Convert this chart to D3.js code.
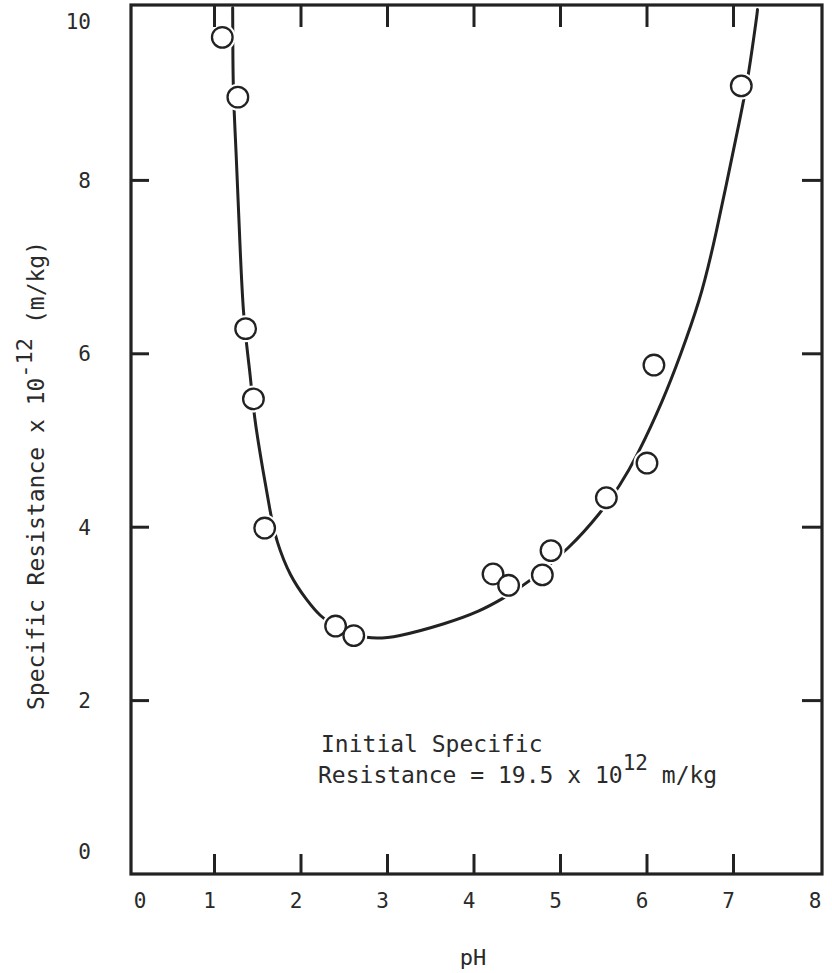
<!DOCTYPE html>
<html>
<head>
<meta charset="utf-8">
<script src="https://cdn.jsdelivr.net/npm/d3@7/dist/d3.min.js"></script>
<style>
  html, body { margin: 0; padding: 0; background: #fff; }
  svg { display: block; }
  text { font-family: "DejaVu Sans Mono", monospace; fill: #2a2a2a; }
</style>
</head>
<body>
<svg id="chart" width="832" height="973"></svg>
<script>
// ---- data ----
const xTicks = [0, 1, 2, 3, 4, 5, 6, 7, 8];
const yTicks = [0, 2, 4, 6, 8, 10];
const pointPH = [1.09, 1.27, 1.36, 1.45, 1.58, 2.40, 2.61, 4.22, 4.40, 4.79, 4.89, 5.53, 6.00, 6.08, 7.09];
const pointSR = [9.65, 8.96, 6.29, 5.48, 3.99, 2.86, 2.75, 3.46, 3.33, 3.45, 3.73, 4.34, 4.74, 5.87, 9.09];
const curvePH = [1.210, 1.212, 1.214, 1.249, 1.283, 1.329, 1.410, 1.457, 1.549, 1.650, 1.711, 1.873, 2.066, 2.220, 2.405, 2.760, 3.106, 3.684, 4.069, 4.339, 4.601, 5.110, 5.476, 5.680, 5.881, 6.189, 6.382, 6.613, 6.766, 7.113, 7.171, 7.275, 7.277];
const curveSR = [9.99, 9.60, 9.04, 8.35, 7.54, 6.41, 5.81, 5.27, 4.72, 4.14, 3.85, 3.43, 3.16, 2.97, 2.85, 2.70, 2.73, 2.89, 3.03, 3.18, 3.34, 3.76, 4.18, 4.47, 4.81, 5.47, 5.97, 6.62, 7.22, 8.89, 9.20, 9.93, 9.97];
const xTitle = "pH";
const yTitleMain = "Specific Resistance x 10";
const yTitleSup = "-12";
const yTitleTail = " (m/kg)";
const noteLine1 = "Initial Specific";
const noteLine2 = "Resistance = 19.5 x 10";
const noteSup = "12";
const noteTail = " m/kg";

// ---- layout ----
const W = 832, H = 973;
const frame = { left: 131, right: 822, top: 5, bottom: 874 };
const ink = "#222";

const svg = d3.select("#chart");
const x = d3.scaleLinear().domain([0, 8]).range([128, 820]);
const y = d3.scaleLinear().domain([0, 10]).range([874, 7]);

// curve
const curveData = curvePH.map((p, i) => [p, curveSR[i]]);
const line = d3.line()
  .x(d => x(d[0])).y(d => y(d[1]))
  .curve(d3.curveBasis);
svg.append("path")
  .datum(curveData)
  .attr("d", line)
  .attr("fill", "none")
  .attr("stroke", ink)
  .attr("stroke-width", 3)
  .attr("stroke-linecap", "round");

// points: white halo then open circle
const pts = pointPH.map((p, i) => [p, pointSR[i]]);
svg.append("g").selectAll("circle.halo").data(pts).join("circle")
  .attr("class", "halo")
  .attr("cx", d => x(d[0])).attr("cy", d => y(d[1]))
  .attr("r", 13.5).attr("fill", "#fff");
svg.append("g").selectAll("circle.pt").data(pts).join("circle")
  .attr("class", "pt")
  .attr("cx", d => x(d[0])).attr("cy", d => y(d[1]))
  .attr("r", 10.3).attr("fill", "#fff")
  .attr("stroke", ink).attr("stroke-width", 2.3);

// frame
svg.append("rect")
  .attr("x", frame.left).attr("y", frame.top)
  .attr("width", frame.right - frame.left)
  .attr("height", frame.bottom - frame.top)
  .attr("fill", "none").attr("stroke", ink).attr("stroke-width", 3.2);

// ticks (inward, all four sides)
const tickLen = 20;
const innerX = xTicks.filter(v => v > 0 && v < 8);
const innerY = yTicks.filter(v => v > 0 && v < 10);
const tg = svg.append("g").attr("stroke", ink).attr("stroke-width", 3);
tg.selectAll("line.bt").data(innerX).join("line")
  .attr("x1", d => x(d)).attr("x2", d => x(d))
  .attr("y1", frame.bottom).attr("y2", frame.bottom - tickLen);
tg.selectAll("line.tt").data(innerX).join("line")
  .attr("x1", d => x(d)).attr("x2", d => x(d))
  .attr("y1", frame.top).attr("y2", frame.top + tickLen + 2);
tg.selectAll("line.lt").data(innerY).join("line")
  .attr("y1", d => y(d)).attr("y2", d => y(d))
  .attr("x1", frame.left).attr("x2", frame.left + tickLen - 2);
tg.selectAll("line.rt").data(innerY).join("line")
  .attr("y1", d => y(d)).attr("y2", d => y(d))
  .attr("x1", frame.right).attr("x2", frame.right - tickLen);

// tick labels
svg.append("g").selectAll("text").data(xTicks).join("text")
  .attr("x", d => Math.max(x(d) - 5, frame.left + 9))
  .attr("y", 908)
  .attr("text-anchor", "middle")
  .attr("font-size", 21)
  .text(d => d);
svg.append("g").selectAll("text").data(yTicks).join("text")
  .attr("x", 91)
  .attr("y", d => Math.min(Math.max(y(d), frame.top + 16), frame.bottom - 23))
  .attr("dy", "0.36em")
  .attr("text-anchor", "end")
  .attr("font-size", 21)
  .text(d => d);

// axis titles
svg.append("text")
  .attr("x", 473).attr("y", 965)
  .attr("text-anchor", "middle")
  .attr("font-size", 22)
  .text(xTitle);

const yt = svg.append("text")
  .attr("transform", "translate(44,710) rotate(-90)")
  .attr("font-size", 23);
yt.append("tspan").text(yTitleMain);
yt.append("tspan").attr("dy", -12).attr("font-size", 22).text(yTitleSup);
yt.append("tspan").attr("dy", 12).text(yTitleTail);

// annotation
svg.append("text")
  .attr("x", 321).attr("y", 752)
  .attr("font-size", 23)
  .text(noteLine1);
const n2 = svg.append("text")
  .attr("x", 318).attr("y", 783)
  .attr("font-size", 23);
n2.append("tspan").text(noteLine2);
n2.append("tspan").attr("dy", -13).attr("font-size", 21).text(noteSup);
n2.append("tspan").attr("dy", 13).text(noteTail);
</script>
</body>
</html>
